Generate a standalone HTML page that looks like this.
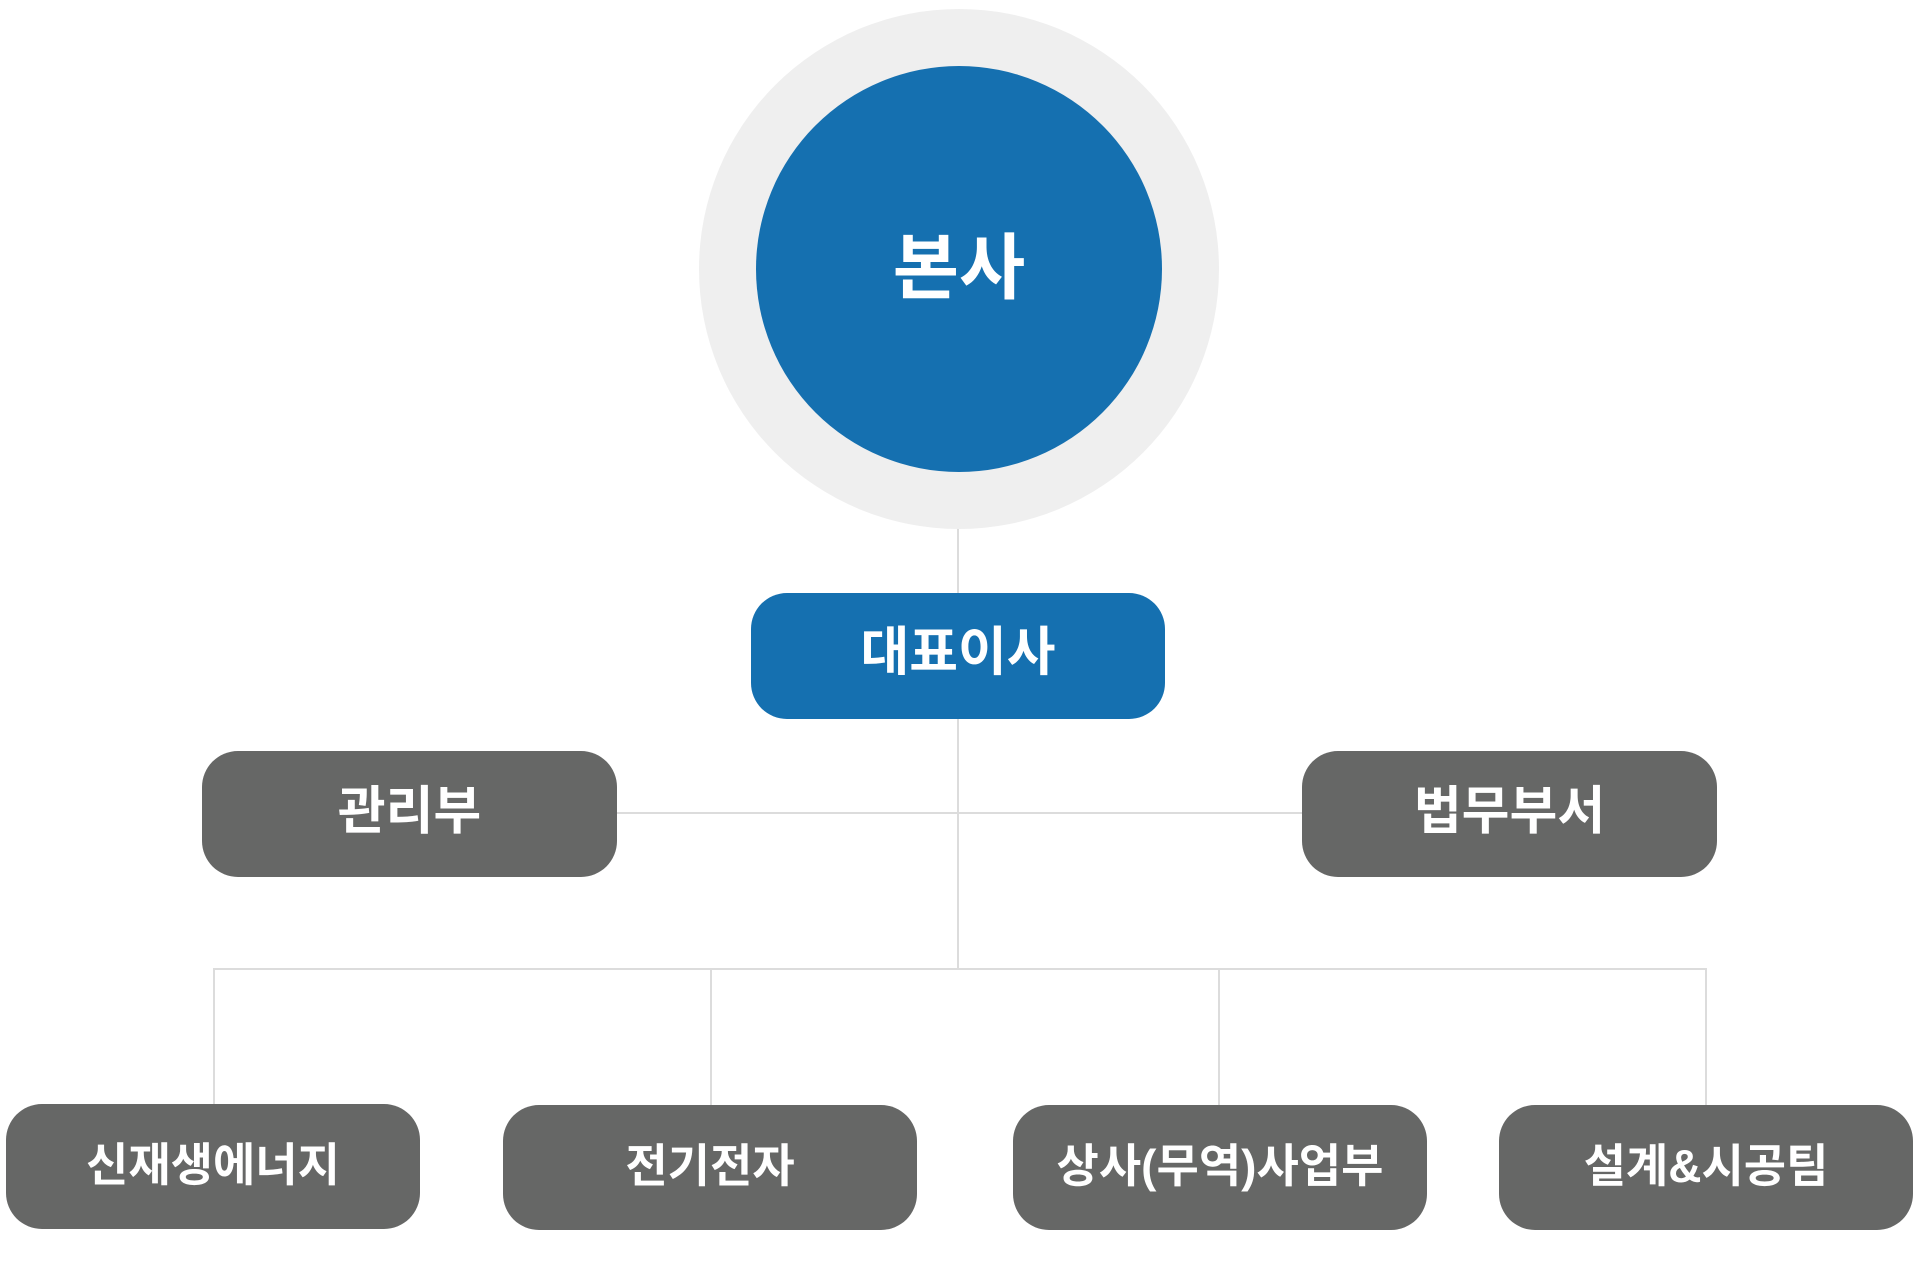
<!DOCTYPE html>
<html><head><meta charset="utf-8"><style>
body{margin:0;width:1920px;height:1274px;background:#fff;position:relative;overflow:hidden;font-family:"Liberation Sans","Noto Sans CJK KR",sans-serif;}
.b{position:absolute;display:flex;align-items:center;justify-content:center;color:#fff;font-weight:bold;border-radius:36px;box-sizing:border-box;}
.g{background:#666766;font-size:46px;padding-bottom:10px;}
.l{position:absolute;background:#dcdcdc;}
</style></head><body>
<div class="l" style="left:957px;top:520px;width:2px;height:450px"></div>
<div class="l" style="left:617px;top:812px;width:685px;height:2px"></div>
<div class="l" style="left:213px;top:968px;width:1494px;height:2px"></div>
<div class="l" style="left:213px;top:968px;width:2px;height:137px"></div>
<div class="l" style="left:710px;top:968px;width:2px;height:137px"></div>
<div class="l" style="left:1218px;top:968px;width:2px;height:137px"></div>
<div class="l" style="left:1705px;top:968px;width:2px;height:137px"></div>
<div style="position:absolute;left:699px;top:9px;width:520px;height:520px;border-radius:50%;background:#efefef"></div>
<div class="b" style="left:756px;top:66px;width:406px;height:406px;border-radius:50%;background:#1570b0;font-size:72px;padding-bottom:16px">본사</div>
<div class="b" style="left:751px;top:593px;width:414px;height:126px;background:#1570b0;font-size:53px;padding-bottom:16px">대표이사</div>
<div class="b g" style="left:202px;top:751px;width:415px;height:126px;font-size:52px;padding-bottom:16px">관리부</div>
<div class="b g" style="left:1302px;top:751px;width:415px;height:126px;font-size:52px;padding-bottom:16px">법무부서</div>
<div class="b g" style="left:6px;top:1104px;width:414px;height:125px">신재생에너지</div>
<div class="b g" style="left:503px;top:1105px;width:414px;height:125px">전기전자</div>
<div class="b g" style="left:1013px;top:1105px;width:414px;height:125px">상사(무역)사업부</div>
<div class="b g" style="left:1499px;top:1105px;width:414px;height:125px">설계&amp;시공팀</div>
</body></html>
